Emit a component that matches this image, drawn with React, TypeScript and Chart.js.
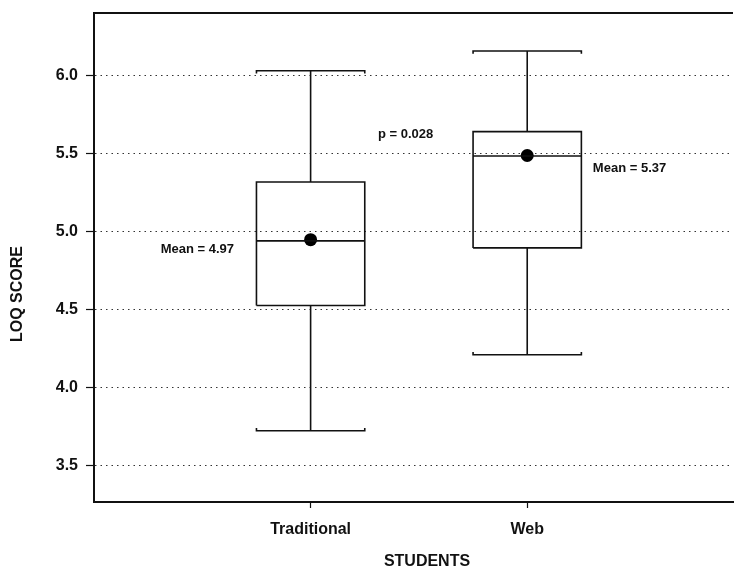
import React, { useEffect, useRef } from "react";
import { Chart, registerables } from "chart.js";

Chart.register(...registerables);

// ---- data ----
const CATEGORIES = ["Traditional", "Web"];
const WHISKER_LOW = [3.724, 4.212];
const Q1 = [4.528, 4.897];
const MEDIAN = [4.942, 5.487];
const Q3 = [5.32, 5.643];
const WHISKER_HIGH = [6.034, 6.16];
const MEANS = [4.95, 5.49];
const Y_TICKS = [3.5, 4.0, 4.5, 5.0, 5.5, 6.0];
const X_AXIS_TITLE = "STUDENTS";
const Y_AXIS_TITLE = "LOQ SCORE";
const ANNOTATION_TEXTS = ["Mean = 4.97", "Mean = 5.37", "p = 0.028"];
// anchor positions of annotations in data units [x, y]
const ANNOTATION_ANCHORS: [number, number][] = [
  [0.308, 4.885],
  [2.303, 5.41],
  [1.311, 5.622],
];

const FONT = '"Liberation Sans", Arial, Helvetica, sans-serif';
const INK = "#111";
const BOX_HALF = 0.25;
const CAP_TICK = 0.018;

function line(points: { x: number; y: number }[]) {
  return {
    type: "line" as const,
    data: points,
    borderColor: INK,
    borderWidth: 1.6,
    pointRadius: 0,
    pointHoverRadius: 0,
    fill: false,
    tension: 0,
  };
}

function buildDatasets() {
  const ds: any[] = [];
  CATEGORIES.forEach((_, i) => {
    const cx = i + 1;
    const l = cx - BOX_HALF;
    const r = cx + BOX_HALF;
    ds.push(
      line([
        { x: l, y: Q1[i] },
        { x: r, y: Q1[i] },
        { x: r, y: Q3[i] },
        { x: l, y: Q3[i] },
        { x: l, y: Q1[i] },
      ])
    );
    ds.push(line([{ x: l, y: MEDIAN[i] }, { x: r, y: MEDIAN[i] }]));
    ds.push(line([{ x: cx, y: Q3[i] }, { x: cx, y: WHISKER_HIGH[i] }]));
    ds.push(
      line([
        { x: l, y: WHISKER_HIGH[i] - CAP_TICK },
        { x: l, y: WHISKER_HIGH[i] },
        { x: r, y: WHISKER_HIGH[i] },
        { x: r, y: WHISKER_HIGH[i] - CAP_TICK },
      ])
    );
    ds.push(line([{ x: cx, y: Q1[i] }, { x: cx, y: WHISKER_LOW[i] }]));
    ds.push(
      line([
        { x: l, y: WHISKER_LOW[i] + CAP_TICK },
        { x: l, y: WHISKER_LOW[i] },
        { x: r, y: WHISKER_LOW[i] },
        { x: r, y: WHISKER_LOW[i] + CAP_TICK },
      ])
    );
  });
  ds.push({
    type: "line",
    data: MEANS.map((m, i) => ({ x: i + 1, y: m })),
    showLine: false,
    pointRadius: 6.5,
    pointBackgroundColor: "#000",
    pointBorderColor: "#000",
    pointBorderWidth: 0,
  });
  return ds;
}

const overlayPlugin = {
  id: "overlay",
  afterDraw(chart: any) {
    const { ctx, chartArea, scales } = chart;
    ctx.save();
    // top frame line
    ctx.strokeStyle = INK;
    ctx.lineWidth = 2;
    ctx.beginPath();
    ctx.moveTo(chartArea.left - 1, chartArea.top);
    ctx.lineTo(chartArea.right, chartArea.top);
    ctx.stroke();

    // annotations
    ctx.fillStyle = INK;
    ctx.font = `bold 13px ${FONT}`;
    ctx.textAlign = "left";
    ctx.textBaseline = "middle";
    ANNOTATION_TEXTS.forEach((t, i) => {
      const [ax, ay] = ANNOTATION_ANCHORS[i];
      ctx.fillText(t, scales.x.getPixelForValue(ax), scales.y.getPixelForValue(ay));
    });

    // axis titles
    ctx.font = `bold 16px ${FONT}`;
    ctx.textAlign = "center";
    ctx.fillText(X_AXIS_TITLE, 427, 562);
    ctx.translate(18, 294);
    ctx.rotate(-Math.PI / 2);
    ctx.fillText(Y_AXIS_TITLE, 0, 0);
    ctx.restore();
  },
};

const zeroPadding = (s: any) => {
  s.paddingTop = 0;
  s.paddingBottom = 0;
  s.paddingLeft = 0;
  s.paddingRight = 0;
};

export default function App() {
  const ref = useRef<HTMLCanvasElement>(null);
  useEffect(() => {
    if (!ref.current) return;
    const chart = new Chart(ref.current, {
      type: "line",
      data: { datasets: buildDatasets() },
      options: {
        animation: false,
        responsive: false,
        events: [],
        layout: { autoPadding: false, padding: { left: 0, top: 13, right: 1, bottom: 0 } },
        plugins: { legend: { display: false }, tooltip: { enabled: false } },
        scales: {
          x: {
            type: "linear",
            min: 0,
            max: 2.95,
            afterBuildTicks: (s: any) => {
              s.ticks = CATEGORIES.map((_, i) => ({ value: i + 1 }));
            },
            afterFit: (s: any) => {
              s.height = 66;
              zeroPadding(s);
            },
            ticks: {
              color: INK,
              font: { family: FONT, size: 16, weight: "bold" },
              padding: 12,
              maxRotation: 0,
              autoSkip: false,
              callback: (v: any) => CATEGORIES[Math.round(v) - 1] ?? "",
            },
            grid: {
              drawOnChartArea: false,
              drawTicks: true,
              tickLength: 6,
              tickColor: INK,
              tickWidth: 1.2,
            },
            border: { display: true, color: INK, width: 2 },
          },
          y: {
            type: "linear",
            min: 3.267,
            max: 6.404,
            afterBuildTicks: (s: any) => {
              s.ticks = Y_TICKS.map((v) => ({ value: v }));
            },
            afterFit: (s: any) => {
              s.width = 94;
              zeroPadding(s);
            },
            ticks: {
              color: INK,
              font: { family: FONT, size: 16, weight: "bold" },
              padding: 8,
              callback: (v: any) => Number(v).toFixed(1),
            },
            grid: {
              color: "#333",
              lineWidth: 1,
              drawTicks: true,
              tickLength: 8,
              tickColor: INK,
              tickWidth: 1.2,
              tickBorderDash: [],
            } as any,
            border: { display: true, color: INK, width: 2, dash: [1.5, 4] } as any,
          },
        },
      },
      plugins: [overlayPlugin],
    } as any);
    return () => chart.destroy();
  }, []);
  return (
    <div style={{ position: "absolute", left: 0, top: 0, width: 734, height: 568, background: "#fff" }}>
      <canvas ref={ref} width={734} height={568} />
    </div>
  );
}
